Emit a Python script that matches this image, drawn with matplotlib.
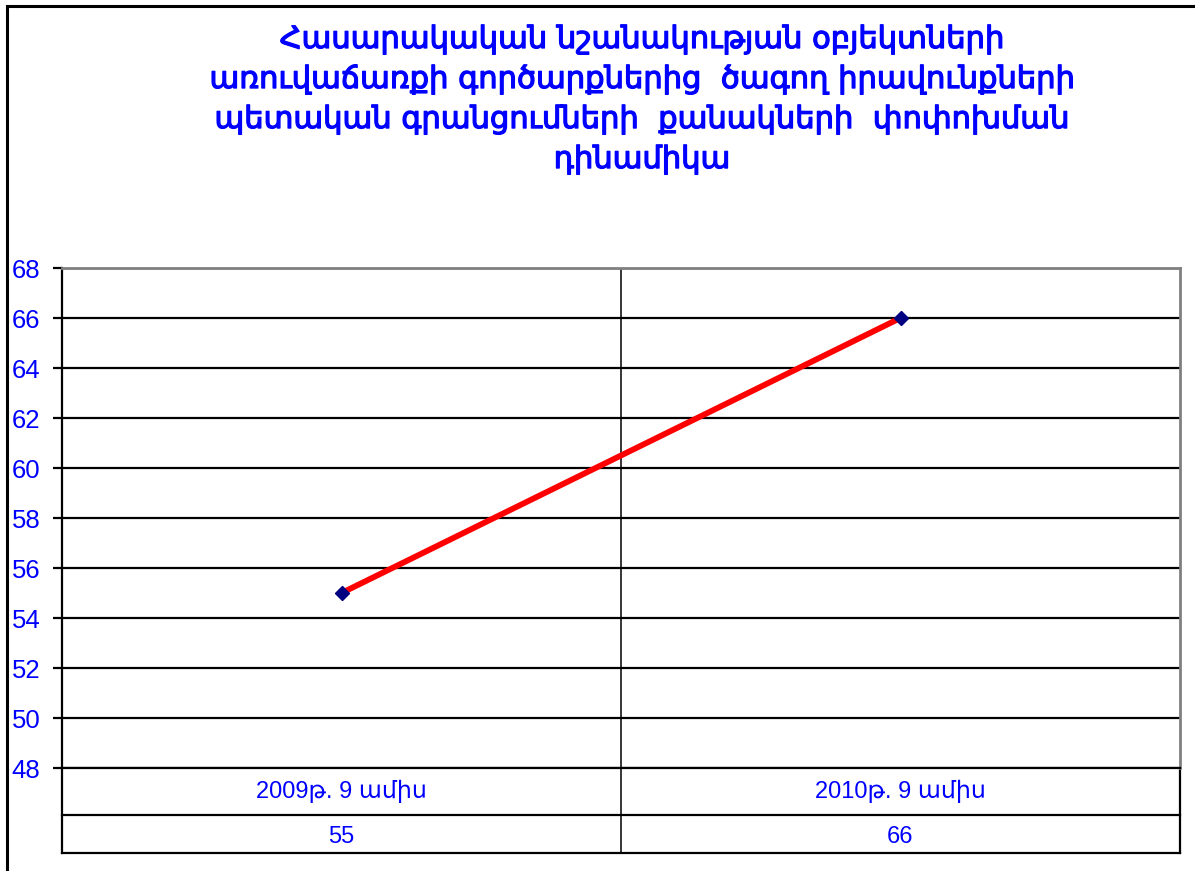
import matplotlib
matplotlib.use("Agg")
import matplotlib.pyplot as plt
import matplotlib.patheffects as pe
from matplotlib.patches import Rectangle
from matplotlib.lines import Line2D

# data
title_lines = [
    "Հասարակական նշանակության օբյեկտների",
    "առուվաճառքի գործարքներից  ծագող իրավունքների",
    "պետական գրանցումների  քանակների  փոփոխման",
    "դինամիկա",
]
categories = ["2009թ. 9 ամիս", "2010թ. 9 ամիս"]
values = [55, 66]
y_ticks = list(range(48, 69, 2))

W, H = 1195, 871
fig = plt.figure(figsize=(W / 100, H / 100), dpi=100)
fig.patch.set_facecolor("white")

# outer chart frame (runs off the right and bottom edges)
fig.add_artist(Rectangle((7 / W, -0.05), 1.2, 1 - 6 / H + 0.05, transform=fig.transFigure,
                         fill=False, edgecolor="black", linewidth=2.2))

fig.text(642 / W, 1 - 24 / H, "\n".join(title_lines), ha="center", va="top",
         color="#0000FF", fontsize=22, family="DejaVu Sans", linespacing=1.4,
         path_effects=[pe.withStroke(linewidth=0.9, foreground="#0000FF")])

left, right, top, bottom = 62, 1180, 268, 768
ax = fig.add_axes([left / W, 1 - bottom / H, (right - left) / W, (bottom - top) / H])

x = list(range(len(categories)))
ax.plot(x, values, color="red", linewidth=4.2, zorder=3)
ax.plot(x, values, linestyle="none", marker="D", markersize=7,
        markerfacecolor="#000080", markeredgecolor="#000080", zorder=4)

ax.set_xlim(-0.5, len(categories) - 0.5)
ax.set_ylim(y_ticks[0], y_ticks[-1])
ax.set_yticks(y_ticks)
ax.set_xticks([])
ax.yaxis.grid(True, color="black", linewidth=1.6)
for i in range(1, len(categories)):
    ax.axvline(i - 0.5, color="black", linewidth=1.1)
ax.set_axisbelow(True)

ax.spines["left"].set_color("black")
ax.spines["left"].set_linewidth(1.6)
ax.spines["bottom"].set_color("black")
ax.spines["bottom"].set_linewidth(1.6)
ax.spines["top"].set_color("#808080")
ax.spines["top"].set_linewidth(2)
ax.spines["right"].set_color("#808080")
ax.spines["right"].set_linewidth(2)

ax.tick_params(axis="y", direction="out", length=6.5, width=1.6, color="black",
               labelcolor="#0000FF", labelsize=18.5, pad=9)
for lab in ax.get_yticklabels():
    lab.set_family("Liberation Sans")

# data table under the plot
row1 = 47 / (bottom - top)
row2 = 85 / (bottom - top)
tr = ax.transAxes
for yy in (-row1, -row2):
    ax.add_line(Line2D([0, 1], [yy, yy], transform=tr, color="black", lw=1.6, clip_on=False))
for xx in (0, 1):
    ax.add_line(Line2D([xx, xx], [0, -row2], transform=tr, color="black", lw=1.6, clip_on=False))
for i in range(1, len(categories)):
    xf = i / len(categories)
    ax.add_line(Line2D([xf, xf], [0, -row2], transform=tr, color="black", lw=1.1, clip_on=False))

for i, (c, v) in enumerate(zip(categories, values)):
    xc = (i + 0.5) / len(categories)
    ax.text(xc, -row1 / 2, c, transform=tr, ha="center", va="center",
            color="#0000FF", fontsize=17, family=["Liberation Sans", "DejaVu Sans"])
    ax.text(xc, -(row1 + row2) / 2 - 0.006, str(v), transform=tr, ha="center", va="center",
            color="#0000FF", fontsize=17, family="Liberation Sans")

fig.savefig("out.png", dpi=100)
